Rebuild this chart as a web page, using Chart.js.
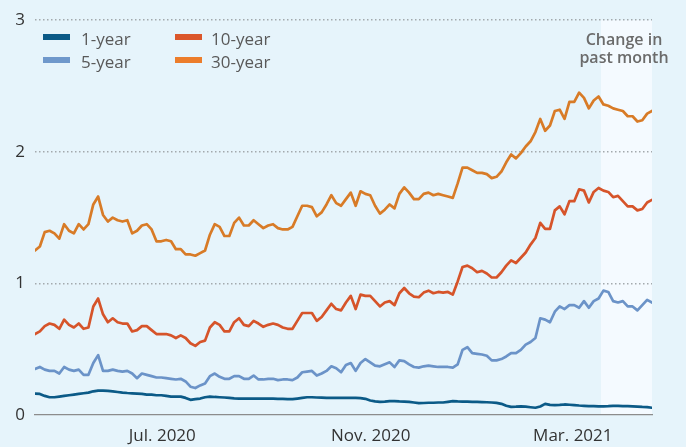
<!DOCTYPE html>
<html><head><meta charset="utf-8">
<script src="https://cdn.jsdelivr.net/npm/chart.js@4"></script>
<style>
html,body{margin:0;padding:0;background:#e6f4fb;}
#wrap{position:relative;width:686px;height:447px;overflow:hidden;font-family:"Open Sans",sans-serif;}
canvas{position:absolute;left:0;top:0;}
.sw{position:absolute;width:27px;height:6px;}
.lt{position:absolute;font-size:17px;line-height:20px;color:#595959;white-space:nowrap;}
#note{position:absolute;left:564px;width:120px;top:30px;text-align:center;font-size:16px;font-weight:600;line-height:18.3px;color:#6b6b6b;}
</style></head>
<body><div id="wrap"><canvas id="c" width="686" height="447"></canvas><div id="legend"></div><div id="note"></div></div>
<script>
// x positions: sample index (every ~2 trading days)
const categories = Array.from({length:128},(_,i)=>i);
const xTickPositions = [26.2, 69.1, 110.7];
const xTickLabels = ['Jul. 2020','Nov. 2020','Mar. 2021'];
const yTicks = [0,1,2,3];
const shadeStart = 116.5;
const noteText = ['Change in','past month'];

const seriesNames = ['1-year','5-year','10-year','30-year'];
const seriesColors = ['#0b5a87','#6b93c8','#d6542a','#d87b27'];
const swatchColors = ['#0b5a87','#6f98cb','#db572b','#ec7d2b'];

const oneYear = [0.163,0.16,0.145,0.135,0.135,0.14,0.145,0.15,0.155,0.16,
0.165,0.17,0.18,0.185,0.185,0.183,0.18,0.175,0.17,0.167,
0.165,0.163,0.16,0.155,0.155,0.15,0.15,0.145,0.14,0.14,
0.14,0.13,0.115,0.12,0.125,0.135,0.14,0.137,0.135,0.133,
0.13,0.127,0.125,0.125,0.125,0.125,0.125,0.125,0.125,0.125,
0.123,0.122,0.12,0.12,0.125,0.13,0.135,0.135,0.133,0.132,
0.13,0.13,0.13,0.13,0.13,0.13,0.13,0.128,0.123,0.11,
0.103,0.10,0.102,0.105,0.105,0.103,0.102,0.10,0.095,0.09,
0.091,0.093,0.093,0.095,0.095,0.10,0.105,0.103,0.102,0.101,
0.10,0.099,0.098,0.097,0.095,0.092,0.085,0.07,0.062,0.063,
0.065,0.063,0.059,0.055,0.065,0.085,0.077,0.075,0.077,0.08,
0.078,0.075,0.072,0.07,0.068,0.067,0.065,0.065,0.067,0.07,
0.07,0.068,0.067,0.065,0.063,0.061,0.06,0.055];

const fiveYear = [0.35,0.365,0.345,0.335,0.335,0.315,0.365,0.345,0.335,0.345,
0.305,0.305,0.395,0.455,0.335,0.335,0.345,0.335,0.33,0.335,
0.315,0.28,0.315,0.305,0.295,0.285,0.285,0.28,0.275,0.27,
0.275,0.255,0.215,0.205,0.225,0.24,0.295,0.315,0.29,0.275,
0.275,0.295,0.295,0.275,0.275,0.30,0.27,0.27,0.275,0.275,
0.265,0.27,0.27,0.265,0.285,0.325,0.33,0.335,0.30,0.315,
0.335,0.37,0.355,0.325,0.38,0.395,0.335,0.395,0.425,0.40,
0.375,0.37,0.385,0.40,0.365,0.415,0.41,0.385,0.365,0.36,
0.37,0.375,0.37,0.365,0.365,0.365,0.36,0.385,0.495,0.515,
0.47,0.465,0.46,0.45,0.415,0.415,0.425,0.445,0.47,0.47,
0.495,0.535,0.555,0.585,0.735,0.725,0.705,0.785,0.825,0.805,
0.835,0.835,0.815,0.865,0.815,0.865,0.885,0.945,0.935,0.865,
0.855,0.865,0.825,0.825,0.795,0.835,0.875,0.855];

const tenYear = [0.615,0.635,0.675,0.695,0.685,0.655,0.725,0.685,0.665,0.695,
0.655,0.665,0.825,0.885,0.765,0.705,0.735,0.705,0.695,0.695,
0.635,0.645,0.675,0.675,0.645,0.615,0.615,0.615,0.605,0.585,
0.605,0.585,0.545,0.525,0.555,0.565,0.665,0.705,0.685,0.635,
0.635,0.705,0.735,0.685,0.675,0.715,0.695,0.67,0.685,0.695,
0.685,0.665,0.655,0.655,0.715,0.775,0.775,0.775,0.715,0.745,
0.795,0.845,0.805,0.795,0.855,0.905,0.805,0.915,0.905,0.905,
0.865,0.825,0.855,0.865,0.835,0.925,0.965,0.925,0.90,0.895,
0.93,0.945,0.925,0.935,0.93,0.935,0.915,1.015,1.125,1.135,
1.115,1.085,1.095,1.075,1.045,1.045,1.085,1.135,1.175,1.155,
1.195,1.235,1.295,1.345,1.46,1.415,1.415,1.555,1.585,1.525,
1.625,1.625,1.715,1.705,1.615,1.695,1.725,1.705,1.695,1.655,
1.665,1.625,1.585,1.585,1.555,1.565,1.615,1.635];

const thirtyYear = [1.25,1.28,1.39,1.40,1.38,1.34,1.45,1.40,1.38,1.45,
1.41,1.45,1.60,1.66,1.52,1.47,1.50,1.48,1.47,1.48,
1.38,1.40,1.44,1.45,1.41,1.32,1.32,1.33,1.32,1.26,
1.26,1.22,1.22,1.21,1.23,1.25,1.37,1.45,1.43,1.36,
1.36,1.46,1.50,1.44,1.44,1.48,1.45,1.42,1.44,1.45,
1.42,1.41,1.41,1.43,1.51,1.59,1.59,1.58,1.51,1.54,
1.60,1.67,1.61,1.59,1.64,1.69,1.59,1.70,1.68,1.67,
1.59,1.53,1.56,1.60,1.57,1.68,1.73,1.69,1.64,1.64,
1.68,1.69,1.67,1.68,1.67,1.66,1.65,1.76,1.88,1.88,
1.86,1.84,1.84,1.83,1.80,1.81,1.85,1.92,1.98,1.95,
1.99,2.04,2.08,2.15,2.25,2.16,2.20,2.31,2.32,2.25,
2.38,2.38,2.45,2.41,2.33,2.39,2.42,2.36,2.35,2.33,
2.32,2.31,2.27,2.27,2.23,2.24,2.29,2.31];

const seriesValues = [oneYear, fiveYear, tenYear, thirtyYear];

// note text
const note = document.getElementById('note');
noteText.forEach((t,i)=>{ if(i) note.appendChild(document.createElement('br')); note.appendChild(document.createTextNode(t)); });

// legend (HTML text)
const legendPos = [[43,81,34,29],[43,81,57,51.5],[175,211,34,29],[175,211,57,51.5]];
const lg = document.getElementById('legend');
seriesNames.forEach((n,i)=>{
  const p = legendPos[i];
  const sw = document.createElement('div'); sw.className='sw';
  sw.style.left=p[0]+'px'; sw.style.top=p[2]+'px'; sw.style.background=swatchColors[i];
  const t = document.createElement('div'); t.className='lt';
  t.style.left=p[1]+'px'; t.style.top=p[3]+'px'; t.textContent=n;
  lg.appendChild(sw); lg.appendChild(t);
});

const shadePlugin = {id:'shade', beforeDraw(chart){
  const {ctx, chartArea:a, scales:{x}} = chart;
  const x0 = x.getPixelForValue(shadeStart), x1 = x.getPixelForValue(x.max);
  ctx.save(); ctx.fillStyle='#f4faff'; ctx.fillRect(x0, a.top, x1-x0, a.bottom-a.top); ctx.restore();
}};

new Chart(document.getElementById('c'), {
  type:'line',
  data:{datasets: seriesNames.map((n,i)=>({
    label:n, data: seriesValues[i].map((v,j)=>({x:categories[j], y:v})),
    borderColor:seriesColors[i], borderWidth:2.7, pointRadius:0, tension:0, fill:false,
    borderJoinStyle:'round', borderCapStyle:'round'
  }))},
  options:{
    responsive:false, animation:false, events:[],
    layout:{padding:{top:15,right:34,left:0,bottom:0}},
    plugins:{legend:{display:false}, tooltip:{enabled:false}},
    scales:{
      x:{type:'linear', min:0, max:127,
        afterBuildTicks:s=>{s.ticks = xTickPositions.map(v=>({value:v}));},
        afterFit:s=>{s.height=32;},
        grid:{display:false, drawTicks:false},
        border:{display:true, color:'#8c8c8c', width:1.2},
        ticks:{autoSkip:false, maxRotation:0, padding:11, color:'#333', font:{family:'Open Sans', size:17},
          callback:(v,i)=>xTickLabels[i]}},
      y:{min:0, max:3,
        afterBuildTicks:s=>{s.ticks = yTicks.map(v=>({value:v}));},
        afterFit:s=>{s.width=35;},
        grid:{drawTicks:false, lineWidth:1.5, color:c=>(c.tick && c.tick.value===0)?'rgba(0,0,0,0)':'#a3a9ad'},
        border:{display:false, dash:[1.5,2.5]},
        ticks:{padding:10, color:'#333', font:{family:'Open Sans', size:17}, callback:v=>String(v)}}
    }
  },
  plugins:[shadePlugin]
});
</script>
</body></html>
